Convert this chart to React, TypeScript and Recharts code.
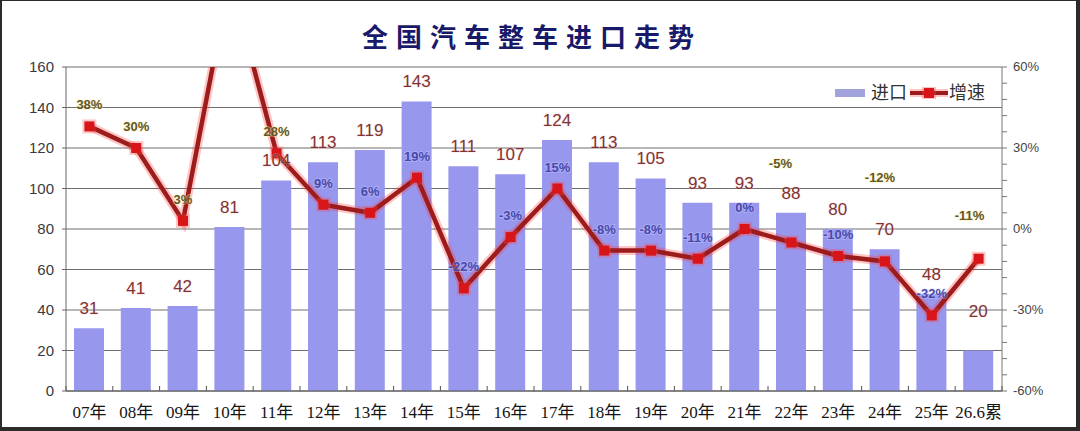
import React from 'react';
import { ComposedChart, Bar, Line, XAxis, YAxis, CartesianGrid, LabelList } from 'recharts';

const categories = ['07年', '08年', '09年', '10年', '11年', '12年', '13年', '14年', '15年', '16年', '17年', '18年', '19年', '20年', '21年', '22年', '23年', '24年', '25年', '26.6累'];
const importVolume = [31, 41, 42, 81, 104, 113, 119, 143, 111, 107, 124, 113, 105, 93, 93, 88, 80, 70, 48, 20];
const growthRate = [38, 30, 3, 93, 28, 9, 6, 19, -22, -3, 15, -8, -8, -11, 0, -5, -10, -12, -32, -11];
const leftTicks = [0, 20, 40, 60, 80, 100, 120, 140, 160];
const rightTicks = [-60, -54, -48, -42, -36, -30, -24, -18, -12, -6, 0, 6, 12, 18, 24, 30, 36, 42, 48, 54, 60];
const rightLabelTicks = [-60, -30, 0, 30, 60];

const title = '全国汽车整车进口走势';
const legendBar = '进口';
const legendLine = '增速';

// label styling (not data)
const hiddenGrowthLabels = [3];
const growthOnBar = [5, 6, 7, 8, 9, 10, 11, 12, 13, 14, 16, 18];
const growthNudge: Record<number, [number, number]> = { 15: [-11, -58], 17: [-5, -62], 19: [-9, -22] };

const tableData = categories.map((name, i) => ({ name, imports: importVolume[i], growth: growthRate[i] }));

const BAR_COLOR = '#9797ee';
const LINE_COLOR = '#9c1b1b';
const MARK_COLOR = '#d8161a';

const XTick = (props: any) => {
  const { x, y, payload, index, width, visibleTicksCount } = props;
  const band = width && visibleTicksCount ? width / visibleTicksCount : 46.8;
  const cx = Number(x);
  const cy = Number(y);
  return (
    <g>
      <line x1={cx - band / 2} x2={cx - band / 2} y1={cy - 5} y2={cy} stroke="#555" strokeWidth={1} />
      {index === visibleTicksCount - 1 && (
        <line x1={cx + band / 2} x2={cx + band / 2} y1={cy - 5} y2={cy} stroke="#555" strokeWidth={1} />
      )}
      <text x={cx} y={cy + 27} textAnchor="middle" fontSize={17} fill="#151515"
        fontFamily="'Liberation Serif', 'Noto Sans CJK SC', serif">{payload.value}</text>
    </g>
  );
};

const RightTick = (props: any) => {
  const { x, y, payload } = props;
  if (!rightLabelTicks.includes(payload.value)) return <g />;
  return (
    <text x={Number(x)} y={Number(y) + 4} textAnchor="start" fontSize={13} fill="#444"
      fontFamily="'Liberation Sans Narrow', 'Liberation Sans', sans-serif">{payload.value}%</text>
  );
};

const BarValueLabel = (props: any) => {
  const { x, y, width, value, index } = props;
  const lift = index === categories.length - 1 ? 34 : 14;
  return (
    <text x={Number(x) + Number(width) / 2} y={Number(y) - lift} textAnchor="middle" fontSize={17}
      fill="#7e3434" stroke="rgba(255,210,210,0.35)" strokeWidth={1.5} paintOrder="stroke"
      fontFamily="'Liberation Sans', Arial, sans-serif">{value}</text>
  );
};

const GrowthLabel = (props: any) => {
  const { x, y, value, index } = props;
  if (hiddenGrowthLabels.includes(index)) return null;
  const [dx, dy] = growthNudge[index] ?? [0, 0];
  const onBar = growthOnBar.includes(index);
  return (
    <text x={Number(x) + dx} y={Number(y) - 17 + dy} textAnchor="middle" fontSize={13} fontWeight="bold"
      fill={onBar ? '#4848aa' : '#62562a'}
      stroke={onBar ? 'rgba(210,210,255,0.35)' : 'rgba(255,240,170,0.45)'} strokeWidth={2} paintOrder="stroke"
      fontFamily="'Liberation Sans Narrow', 'Liberation Sans', sans-serif">{value}%</text>
  );
};

const SquareDot = (props: any) => {
  const { cx, cy, index } = props;
  if (cx == null || cy == null) return <g key={index} />;
  return (
    <g key={index}>
      <rect x={cx - 7} y={cy - 7} width={14} height={14} fill="#ff4a4a" opacity={0.3} />
      <rect x={cx - 5} y={cy - 5} width={10} height={10} fill={MARK_COLOR} />
    </g>
  );
};

export default function App() {
  return (
    <div style={{ position: 'absolute', left: 0, top: 0, width: 1080, height: 431, background: '#fff', overflow: 'hidden' }}>
      <ComposedChart width={1080} height={431} data={tableData}
        margin={{ top: 67, right: 0, bottom: 0, left: 0 }} barSize={30}>
        <CartesianGrid yAxisId="left" vertical={false} stroke="#6e6e6e" strokeWidth={1} />
        <XAxis dataKey="name" height={40} tickSize={0} tickMargin={0} tick={<XTick />}
          axisLine={{ stroke: '#555' }} tickLine={false} interval={0} />
        <YAxis yAxisId="left" width={66} domain={[0, 160]} ticks={leftTicks} tickSize={4} tickMargin={8}
          axisLine={{ stroke: '#666' }} tickLine={{ stroke: '#666' }}
          tick={{ fill: '#3a3a3a', fontSize: 15, fontFamily: "'Liberation Sans', Arial, sans-serif" }} />
        <YAxis yAxisId="right" orientation="right" width={78} domain={[-60, 60]} ticks={rightTicks}
          allowDataOverflow interval={0} tickSize={5} tickMargin={6}
          axisLine={{ stroke: '#777' }} tickLine={{ stroke: '#777' }} tick={<RightTick />} />
        <Bar yAxisId="left" dataKey="imports" fill={BAR_COLOR} isAnimationActive={false}>
          <LabelList dataKey="imports" content={<BarValueLabel />} />
        </Bar>
        <Line yAxisId="right" dataKey="growth" stroke="#ff3b3b" strokeOpacity={0.3} strokeWidth={9}
          dot={false} activeDot={false} isAnimationActive={false} legendType="none" />
        <Line yAxisId="right" dataKey="growth" stroke={LINE_COLOR} strokeWidth={4.5}
          dot={<SquareDot />} activeDot={false} isAnimationActive={false}>
          <LabelList dataKey="growth" content={<GrowthLabel />} />
        </Line>
      </ComposedChart>

      <div style={{ position: 'absolute', left: 0, top: 22, width: 1064, textAlign: 'center', fontSize: 26,
        lineHeight: '28px', letterSpacing: 8, fontWeight: 700, color: '#19196a',
        fontFamily: "'Noto Sans CJK SC', sans-serif" }}>{title}</div>

      <svg style={{ position: 'absolute', left: 0, top: 0 }} width={1080} height={431} pointerEvents="none">
        <rect x={835} y={89} width={30} height={8} fill="#a2a2dc" />
        <text x={871} y={99} fontSize={18} fill="#333" fontFamily="'Noto Sans CJK SC', sans-serif">{legendBar}</text>
        <line x1={910} x2={948} y1={93} y2={93} stroke="#ff3b3b" strokeOpacity={0.3} strokeWidth={8} />
        <line x1={910} x2={948} y1={93} y2={93} stroke={LINE_COLOR} strokeWidth={4} />
        <rect x={922} y={87} width={14} height={12} fill="#ff4a4a" opacity={0.35} />
        <rect x={924} y={88} width={10} height={10} fill={MARK_COLOR} />
        <text x={949} y={99} fontSize={18} fill="#333" fontFamily="'Noto Sans CJK SC', sans-serif">{legendLine}</text>
      </svg>

      <div style={{ position: 'absolute', left: 0, top: 0, width: 1080, height: 431, boxSizing: 'border-box',
        borderLeft: '2px solid #2b2b2b', borderTop: '1px solid #2b2b2b', borderRight: '4px solid #2b2b2b',
        borderBottom: '4px solid #2b2b2b', pointerEvents: 'none' }} />
    </div>
  );
}
